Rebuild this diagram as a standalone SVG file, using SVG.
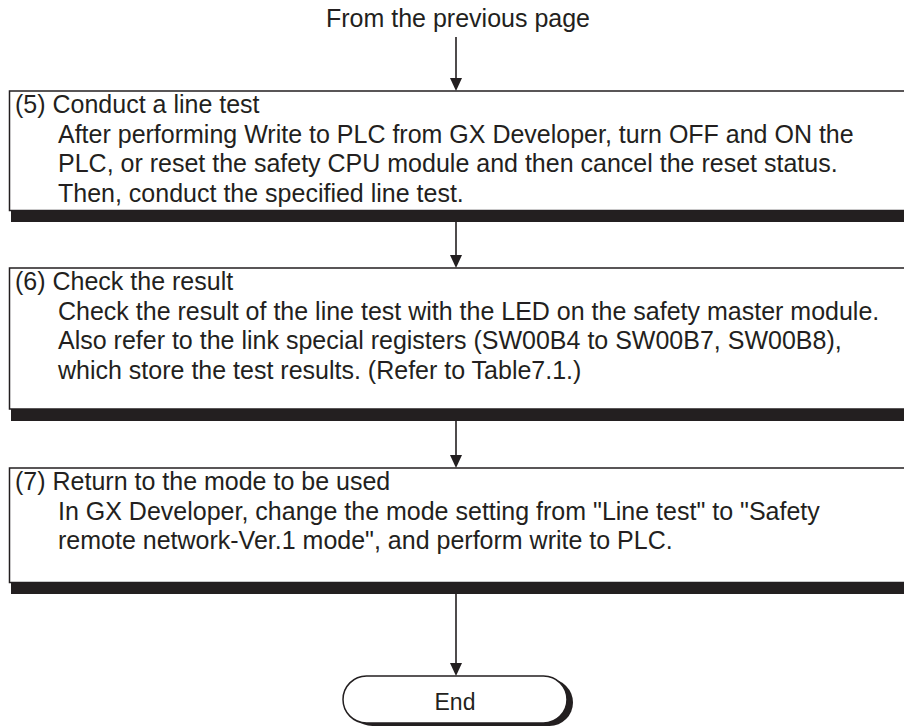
<svg xmlns="http://www.w3.org/2000/svg" width="904" height="726" viewBox="0 0 904 726">
<defs>
<style>
text{font-family:"Liberation Sans",Arial,sans-serif;font-size:25px;fill:#231f20}
.endtext{font-size:23px}
.box{fill:#fff;stroke:#231f20;stroke-width:1.5}
.bar{fill:#231f20}
.conn{stroke:#231f20;stroke-width:1.6;fill:none}
.head{fill:#231f20}
</style>
</defs>
<rect width="904" height="726" fill="#fff"/>
<text id="from" x="458" y="27" text-anchor="middle">From the previous page</text>
<g id="connectors">
<line class="conn" x1="456" y1="37" x2="456" y2="80"/>
<path class="head" d="M450,78 L462,78 L456,91 Z"/>
<line class="conn" x1="456" y1="222" x2="456" y2="257"/>
<path class="head" d="M450,255 L462,255 L456,268 Z"/>
<line class="conn" x1="456" y1="421" x2="456" y2="457"/>
<path class="head" d="M450,455 L462,455 L456,468 Z"/>
<line class="conn" x1="456" y1="594" x2="456" y2="665"/>
<path class="head" d="M450,663 L462,663 L456,676 Z"/>
</g>
<g id="step5">
<rect class="box" x="9.5" y="91" width="920" height="119.5"/>
<rect class="bar" x="11" y="210.5" width="920" height="11.5"/>
<text x="15" y="113">(5) Conduct a line test</text>
<text x="58" y="142.5">After performing Write to PLC from GX Developer, turn OFF and ON the</text>
<text x="58" y="172">PLC, or reset the safety CPU module and then cancel the reset status.</text>
<text x="58" y="201.5">Then, conduct the specified line test.</text>
</g>
<g id="step6">
<rect class="box" x="9.5" y="268" width="920" height="141"/>
<rect class="bar" x="11" y="409" width="920" height="12"/>
<text x="15" y="290">(6) Check the result</text>
<text x="58" y="319.5">Check the result of the line test with the LED on the safety master module.</text>
<text x="58" y="349">Also refer to the link special registers (SW00B4 to SW00B7, SW00B8),</text>
<text x="58" y="378.5">which store the test results. (Refer to Table7.1.)</text>
</g>
<g id="step7">
<rect class="box" x="9.5" y="468" width="920" height="114.5"/>
<rect class="bar" x="11" y="582.5" width="920" height="11.5"/>
<text x="15" y="490">(7) Return to the mode to be used</text>
<text x="58" y="519.5">In GX Developer, change the mode setting from "Line test" to "Safety</text>
<text x="58" y="549">remote network-Ver.1 mode", and perform write to PLC.</text>
</g>
<g id="end">
<rect x="349" y="679" width="224" height="47" rx="23.5" fill="#231f20"/>
<rect x="343" y="676" width="224" height="47" rx="23.5" fill="#fff" stroke="#231f20" stroke-width="1.5"/>
<text class="endtext" x="455" y="710" text-anchor="middle">End</text>
</g>
</svg>
